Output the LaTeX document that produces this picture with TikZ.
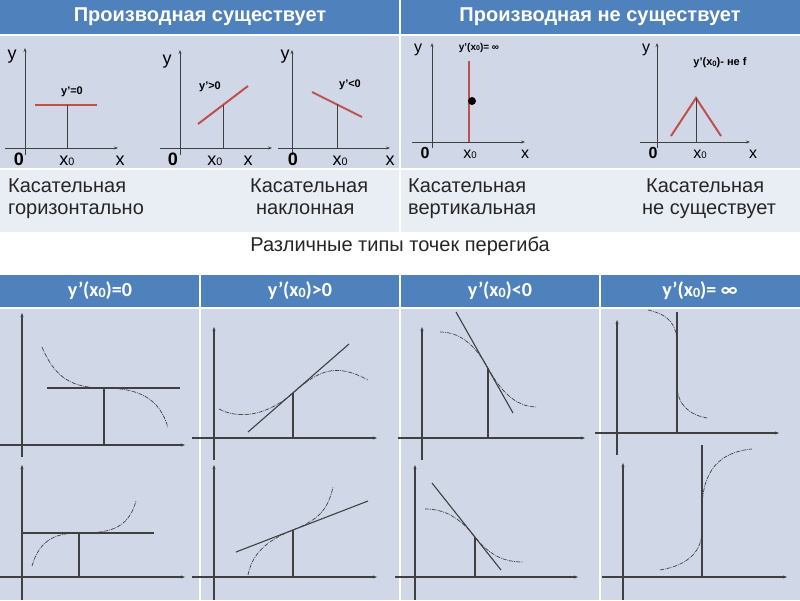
\documentclass[tikz,border=0pt]{standalone}
\usepackage{fontspec}
\setmainfont{Liberation Sans}
\newfontfamily\calfont{Carlito}
\usetikzlibrary{arrows.meta}
\definecolor{hdrblue}{HTML}{4F81BD}
\definecolor{bodyblue}{HTML}{D0D8E8}
\definecolor{rowlight}{HTML}{E9EDF4}
\definecolor{redln}{HTML}{C0504D}
\definecolor{axgray}{HTML}{404040}
\definecolor{txtgray}{HTML}{262626}
\tikzset{
  hdr/.style={fill=hdrblue,draw=none},
  bodycell/.style={fill=bodyblue,draw=none},
  rowcell/.style={fill=rowlight,draw=none},
  axisln/.style={draw=axgray,line width=0.9pt,-{Stealth[length=4pt,width=3pt]}},
  axisbt/.style={draw=axgray,line width=1.1pt,-{Stealth[length=4pt,width=3pt]}},
  redline/.style={draw=redln,line width=2pt},
  thinln/.style={draw=axgray,line width=0.9pt},
  tanln/.style={draw=axgray,line width=1.1pt},
  crv/.style={draw=black!75,line width=0.7pt,dash pattern=on 4pt off 1pt on 0.8pt off 1pt},
  hdrtext/.style={text=white,font=\fontsize{20}{22}\selectfont\bfseries},
  hdrtextb/.style={text=white,font=\calfont\fontsize{20}{22}\selectfont\bfseries},
  axlbl/.style={anchor=base,font=\fontsize{18}{20}\selectfont,inner sep=0pt},
  axlbls/.style={anchor=base,font=\fontsize{16}{18}\selectfont,inner sep=0pt},
  glbl/.style={font=\fontsize{11}{12}\selectfont\bfseries,inner sep=0pt},
  rowtxt/.style={anchor=base west,text=txtgray,font=\fontsize{20}{22}\selectfont,inner sep=0pt},
}
\newcommand{\xsub}{x\raisebox{-0.1ex}{\scalebox{0.6}{0}}}
\newcommand{\bsub}{x\raisebox{-0.05ex}{\scalebox{0.7}{0}}}
\begin{document}
\begin{tikzpicture}[x=1pt,y=-1pt]
\useasboundingbox (0,0) rectangle (800,600);
\fill[white] (0,0) rectangle (800,600);
% ---------- top table ----------
\fill[hdr] (0,0) rectangle (399,34);
\fill[hdr] (401,0) rectangle (800,34);
\fill[bodycell] (0,36) rectangle (399,168);
\fill[bodycell] (401,36) rectangle (800,168);
\fill[rowcell] (0,170) rectangle (399,232);
\fill[rowcell] (401,170) rectangle (800,232);
\node[hdrtext] (h1) at (200,17) {Производная существует};
\node[hdrtext] (h2) at (600,17) {Производная не существует};
% graph 1
\draw[axisln] (25,155) -- (25,48);
\draw[axisln] (5,148) -- (118,148);
\draw[redline] (35,105) -- (97,105);
\draw[thinln] (67,105) -- (67,148);
\node[glbl] (l1) at (72,92) {y’=0};
\node[axlbl] (g1y) at (12,59) {y};
\node[axlbl,font=\fontsize{18}{20}\selectfont\bfseries] (g1o) at (19,165) {0};
\node[axlbl] (g1x0) at (67,165) {\xsub};
\node[axlbl] (g1x) at (120,165) {x};
% graph 2
\draw[axisln] (180,155) -- (180,50);
\draw[axisln] (160,148) -- (272,148);
\draw[redline] (198,124) -- (248,86);
\draw[thinln] (223,105) -- (223,148);
\node[glbl] (l2) at (210,87) {y’>0};
\node[axlbl] (g2y) at (167,64) {y};
\node[axlbl,font=\fontsize{18}{20}\selectfont\bfseries] (g2o) at (173,165) {0};
\node[axlbl] (g2x0) at (215,165) {\xsub};
\node[axlbl] (g2x) at (248,165) {x};
% graph 3
\draw[axisln] (292,155) -- (292,50);
\draw[axisln] (278,148) -- (390,148);
\draw[redline] (312,92) -- (362,117);
\draw[thinln] (337,104) -- (337,148);
\node[glbl] (l3) at (350,85) {y’<0};
\node[axlbl] (g3y) at (285,59) {y};
\node[axlbl,font=\fontsize{18}{20}\selectfont\bfseries] (g3o) at (293,165) {0};
\node[axlbl] (g3x0) at (340,165) {\xsub};
\node[axlbl] (g3x) at (390,165) {x};
% graph 4
\draw[axisln] (432,148) -- (432,43);
\draw[axisln] (412,142) -- (525,142);
\draw[redline] (469,61) -- (469,142);
\fill[black] (472,101) circle (4);
\node[glbl,font=\fontsize{10}{11}\selectfont\bfseries] (l4) at (479,48) {y’(\bsub)= ∞};
\node[axlbls] (g4y) at (418,52) {y};
\node[axlbls,font=\fontsize{16}{18}\selectfont\bfseries] (g4o) at (425,158) {0};
\node[axlbls] (g4x0) at (470,158) {\xsub};
\node[axlbls] (g4x) at (525,158) {x};
% graph 5
\draw[axisln] (657,148) -- (657,43);
\draw[axisln] (640,142) -- (750,142);
\draw[redline] (671,136) -- (696,98) -- (721,136);
\draw[thinln] (696,98) -- (696,142);
\node[glbl] (l5) at (720,63) {y’(\bsub)- не f};
\node[axlbls] (g5y) at (646,52) {y};
\node[axlbls,font=\fontsize{16}{18}\selectfont\bfseries] (g5o) at (653,158) {0};
\node[axlbls] (g5x0) at (700,158) {\xsub};
\node[axlbls] (g5x) at (753,158) {x};
% text row
\node[rowtxt] (t1a) at (8,192) {Касательная};
\node[rowtxt] (t1b) at (8,214) {горизонтально};
\node[rowtxt] (t2a) at (250,192) {Касательная};
\node[rowtxt] (t2b) at (256,214) {наклонная};
\node[rowtxt] (t3a) at (408,192) {Касательная};
\node[rowtxt] (t3b) at (408,214) {вертикальная};
\node[rowtxt] (t4a) at (646,192) {Касательная};
\node[rowtxt] (t4b) at (642,214) {не существует};
\node[rowtxt,anchor=base] (cap) at (400,251) {Различные типы точек перегиба};
% ---------- bottom table ----------
\fill[hdr] (0,275) rectangle (199,307);
\fill[hdr] (201,275) rectangle (399,307);
\fill[hdr] (401,275) rectangle (599,307);
\fill[hdr] (601,275) rectangle (800,307);
\fill[bodycell] (0,309) rectangle (199,600);
\fill[bodycell] (201,309) rectangle (399,600);
\fill[bodycell] (401,309) rectangle (599,600);
\fill[bodycell] (601,309) rectangle (800,600);
\node[hdrtextb] (b1) at (100,291) {y’(\bsub)=0};
\node[hdrtextb] (b2) at (300,291) {y’(\bsub)>0};
\node[hdrtextb] (b3) at (500,291) {y’(\bsub)<0};
\node[hdrtextb] (b4) at (700,291) {y’(\bsub)= ∞};
% cell 1 top
\draw[axisbt] (22,457) -- (22,313);
\draw[axisbt] (0,445) -- (185,445);
\draw[tanln] (47,388) -- (180,388);
\draw[tanln] (104,388) -- (104,445);
\draw[crv] (42,347) .. controls (55,378) and (72,388) .. (104,388) .. controls (138,388) and (160,398) .. (168,428);
% cell 1 bottom
\draw[axisbt] (22,600) -- (22,465);
\draw[axisbt] (0,577) -- (185,577);
\draw[tanln] (22,533) -- (154,533);
\draw[tanln] (79,533) -- (79,577);
\draw[crv] (32,566) .. controls (40,538) and (58,533) .. (79,533) .. controls (108,533) and (128,530) .. (136,501);
% cell 2 top
\draw[axisbt] (214,460) -- (214,327);
\draw[axisbt] (192,438) -- (377,438);
\draw[tanln] (248,432) -- (349,344);
\draw[tanln] (293,393) -- (293,438);
\draw[crv] (219,409) .. controls (240,420) and (268,415) .. (293,393) .. controls (318,371) and (335,362) .. (368,380);
% cell 2 bottom
\draw[axisbt] (214,600) -- (214,465);
\draw[axisbt] (192,577) -- (377,577);
\draw[tanln] (236,552) -- (368,501);
\draw[tanln] (293,530) -- (293,577);
\draw[crv] (248,575) .. controls (252,555) and (265,541) .. (293,530) .. controls (318,520) and (328,510) .. (333,487);
% cell 3 top
\draw[axisbt] (422,460) -- (422,327);
\draw[axisbt] (398,438) -- (585,438);
\draw[tanln] (456,312) -- (513,413);
\draw[tanln] (488,368) -- (488,438);
\draw[crv] (440,332) .. controls (460,332) and (475,345) .. (488,368) .. controls (500,390) and (515,407) .. (537,407);
% cell 3 bottom
\draw[axisbt] (415,600) -- (415,465);
\draw[axisbt] (395,577) -- (578,577);
\draw[tanln] (432,483) -- (501,570);
\draw[tanln] (475,537) -- (475,577);
\draw[crv] (425,509) .. controls (445,509) and (460,518) .. (475,537) .. controls (490,556) and (505,562) .. (523,562);
% cell 4 top
\draw[axisbt] (617,455) -- (617,320);
\draw[axisbt] (595,433) -- (779,433);
\draw[tanln] (677,312) -- (677,433);
\draw[crv] (648,310) .. controls (670,315) and (677,325) .. (677,345) -- (677,385) .. controls (677,405) and (690,415) .. (707,418);
% cell 4 bottom
\draw[axisbt] (623,600) -- (623,463);
\draw[axisbt] (602,577) -- (787,577);
\draw[tanln] (702,445) -- (702,577);
\draw[crv] (660,570) .. controls (690,565) and (702,550) .. (702,530) -- (702,510) .. controls (702,470) and (720,452) .. (752,449);
\end{tikzpicture}
\end{document}
